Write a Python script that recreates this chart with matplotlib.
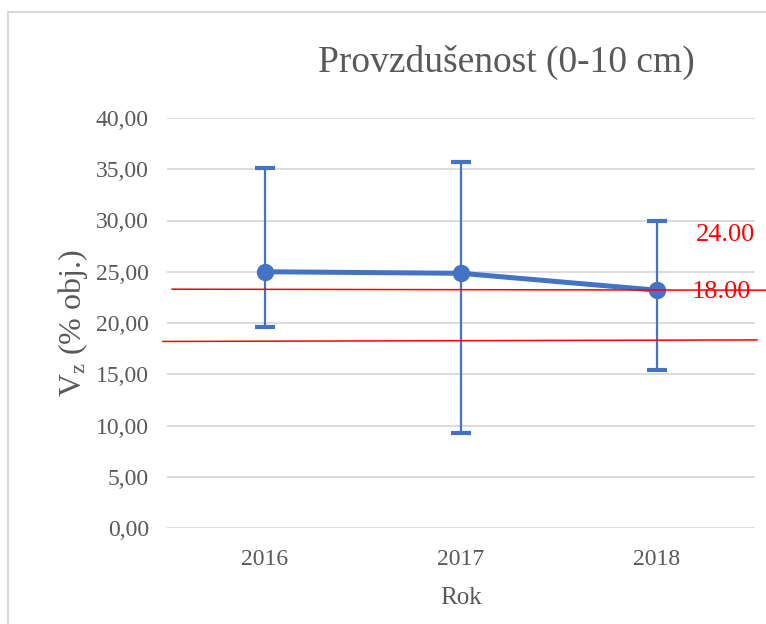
#!/usr/bin/env python3
"""
Provzdusenost (0-10 cm) - mean values per year with error bars
and two red reference lines, Excel-like styling
"""

import matplotlib
matplotlib.use('Agg')
import matplotlib.pyplot as plt
from matplotlib.patches import Rectangle
from matplotlib.ticker import FuncFormatter
import matplotlib.transforms as mtransforms

# Data
years = ['2016', '2017', '2018']
mean_vals = [25.0, 24.85, 23.2]
err_upper = [35.1, 35.7, 30.0]
err_lower = [19.6, 9.25, 15.4]

# Reference lines (start / end value, slightly tilted as in original)
ref_start = [23.3, 18.2]
ref_end = [23.2, 18.35]
ref_labels = ['24.00', '18.00']
ref_label_y = [28.6, 23.0]

blue = '#4472C4'
red = '#FF0000'
grey_text = '#595959'
grid_col = '#D9D9D9'

plt.rcParams['font.family'] = ['Liberation Serif', 'DejaVu Serif']
plt.rcParams['mathtext.fontset'] = 'custom'
plt.rcParams['mathtext.rm'] = 'Liberation Serif'
plt.rcParams['mathtext.it'] = 'Liberation Serif:italic'

fig = plt.figure(figsize=(7.66, 6.24), dpi=100)
W, H = 766, 624

# Chart border (light grey frame, runs off right/bottom edge)
fig.patches.append(Rectangle((8 / W, -0.05), 1.1, 1 - 12 / H + 0.05,
                             transform=fig.transFigure, fill=False,
                             edgecolor=grid_col, linewidth=1.5))

ax = fig.add_axes([167 / W, 1 - 528 / H, 588 / W, 410 / H])
x = list(range(len(years)))

yerr = [[m - lo for m, lo in zip(mean_vals, err_lower)],
        [hi - m for m, hi in zip(mean_vals, err_upper)]]

ax.errorbar(x, mean_vals, yerr=yerr, fmt='none', ecolor=blue,
            elinewidth=1.6, capsize=7, capthick=3, zorder=3)
ax.plot(x, mean_vals, color=blue, linewidth=3.6, marker='o',
        markersize=11.5, zorder=4)

ax.set_xlim(-0.5, 2.5)
ax.set_ylim(0, 40)
ax.set_yticks(range(0, 41, 5))
ax.yaxis.set_major_formatter(FuncFormatter(lambda v, p: f'{v:.2f}'.replace('.', ',')))
ax.set_xticks(x)
ax.set_xticklabels(years)

ax.grid(axis='y', color=grid_col, linewidth=1.3)
ax.set_axisbelow(True)
for s in ax.spines.values():
    s.set_visible(False)
ax.tick_params(length=0, labelsize=17, labelcolor=grey_text)
ax.tick_params(axis='x', pad=15)
ax.tick_params(axis='y', pad=13)

ax.set_xlabel('Rok', fontsize=18, color=grey_text, labelpad=12)
ax.set_ylabel(r'V$_\mathregular{z}$ (% obj.)', fontsize=23, color=grey_text,
              labelpad=4)

ax.set_title('Provzdušenost (0-10 cm)', fontsize=27, color=grey_text,
             x=0.578, pad=33)

# Red reference lines and their labels
trans = mtransforms.blended_transform_factory(ax.transAxes, ax.transData)
ref_x = [(0.0085, 1.02), (-0.007, 1.0034)]
for (x0, x1), y0, y1 in zip(ref_x, ref_start, ref_end):
    ax.plot([x0, x1], [y0, y1], color=red, linewidth=1.1, transform=trans,
            clip_on=False, zorder=5)
for lab, ly, lx in zip(ref_labels, ref_label_y, [1.0, 0.993]):
    ax.text(lx, ly, lab, color=red, fontsize=19, ha='right', va='center',
            transform=trans, zorder=6)

fig.savefig('out.png', dpi=100)
plt.close(fig)
